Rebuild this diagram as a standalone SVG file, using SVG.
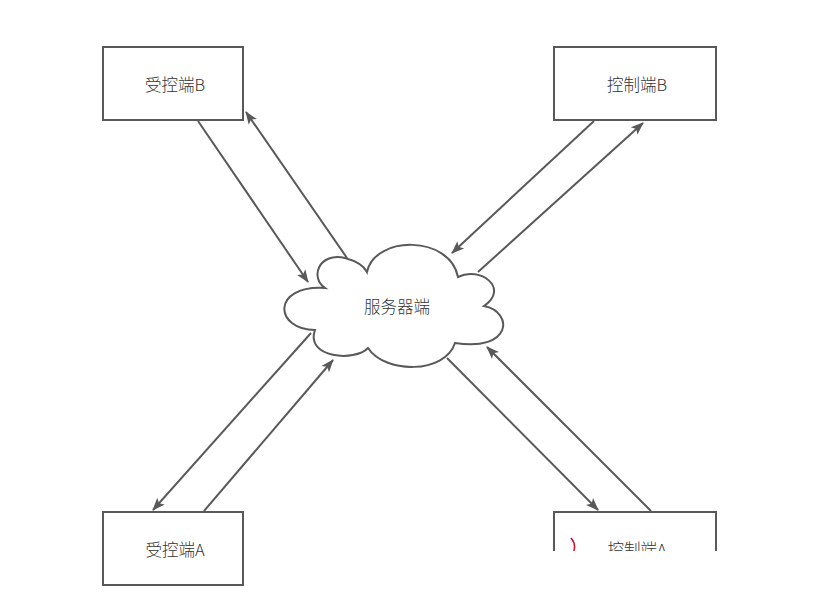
<svg xmlns="http://www.w3.org/2000/svg" width="827" height="615" viewBox="0 0 827 615">
<style>
.box{fill:#fff;stroke:#595959;stroke-width:2}
.lbl{font-family:"Noto Sans CJK SC","Liberation Sans",sans-serif;font-size:16.5px;font-weight:300;fill:#333;text-anchor:middle;dominant-baseline:central}
.edge{fill:none;stroke:#595959;stroke-width:2;marker-end:url(#arr)}
</style>
<defs>
<marker id="arr" markerUnits="userSpaceOnUse" markerWidth="14" markerHeight="12" refX="12" refY="5" orient="auto" overflow="visible">
<path d="M0,0 L13,5 L0,10 L3,5 Z" fill="#595959"/>
</marker>
<clipPath id="cut"><rect x="0" y="0" width="827" height="551"/></clipPath>
</defs>
<rect width="827" height="615" fill="#fff"/>
<g id="edges">
<line class="edge" x1="198" y1="121" x2="308" y2="282"/>
<line class="edge" x1="347" y1="258" x2="246" y2="112"/>
<line class="edge" x1="594" y1="121" x2="452" y2="253"/>
<line class="edge" x1="478" y1="272" x2="643" y2="123"/>
<line class="edge" x1="311" y1="333" x2="153" y2="510"/>
<line class="edge" x1="204" y1="511" x2="333" y2="360"/>
<line class="edge" x1="447" y1="358" x2="598" y2="510"/>
<line class="edge" x1="651" y1="511" x2="487" y2="347"/>
</g>
<g id="server">
<path class="box" stroke-width="2.4" d="M325,288 C310,278 318,252 345,258 C356,261 364,266 367,272 C375,235 450,235 458,277 C480,266 510,288 484,306 C514,312 512,352 455,343 C445,374 385,374 368,348 C355,362 305,358 315,330 C275,330 270,285 325,288 Z"/>
<text class="lbl" x="397" y="306">服务器端</text>
</g>
<g id="controlledB">
<rect class="box" x="103" y="47" width="140" height="73"/>
<text class="lbl" x="175" y="84">受控端B</text>
</g>
<g id="controllerB">
<rect class="box" x="554" y="47" width="162" height="73"/>
<text class="lbl" x="637" y="84">控制端B</text>
</g>
<g id="controlledA">
<rect class="box" x="103" y="512" width="140" height="73"/>
<text class="lbl" x="175" y="549">受控端A</text>
</g>
<g id="controllerA" clip-path="url(#cut)">
<rect class="box" x="554" y="512" width="162" height="73"/>
<text class="lbl" x="637" y="549">控制端A</text>
<path d="M571,538 Q577,545 573,553" fill="none" stroke="#c8102e" stroke-width="1.5"/>
</g>
</svg>
